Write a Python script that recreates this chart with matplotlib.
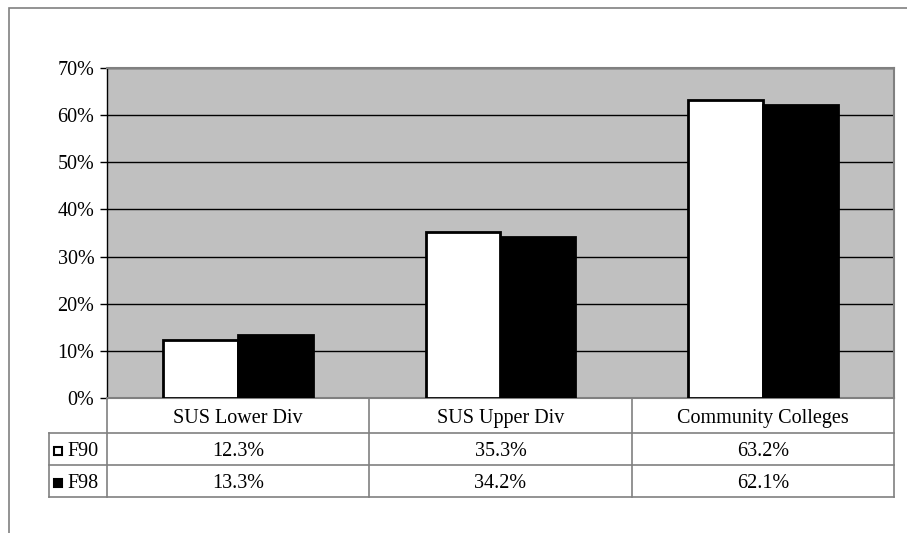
import matplotlib.pyplot as plt
from matplotlib.patches import Rectangle
from matplotlib.lines import Line2D

# Daten
categories = ["SUS Lower Div", "SUS Upper Div", "Community Colleges"]
series_names = ["F90", "F98"]
f90 = [12.3, 35.3, 63.2]
f98 = [13.3, 34.2, 62.1]
yticks = [0, 10, 20, 30, 40, 50, 60, 70]

W, H = 907, 533
plt.rcParams['font.family'] = ['Liberation Serif', 'DejaVu Serif']
fs = 14.5

fig = plt.figure(figsize=(W / 100, H / 100), dpi=100)


def fx(px):
    return px / W


def fy(py):
    return 1 - py / H


# aeusserer Rahmen
fig.patches.append(Rectangle((fx(8.5), fy(560)), fx(920), fy(8.5) - fy(560),
                             transform=fig.transFigure, fill=False,
                             edgecolor='#808080', lw=1.2))

left, right, top, bottom = 107, 894, 68, 398
ax = fig.add_axes([fx(left), fy(bottom), fx(right - left), fy(top) - fy(bottom)])
ax.set_facecolor('#c0c0c0')

n = len(categories)
bw = 1 / 3.5
xs = range(n)
ax.bar([x - bw / 2 for x in xs], f90, width=bw, color='white',
       edgecolor='black', lw=2, zorder=3)
ax.bar([x + bw / 2 for x in xs], f98, width=bw, color='black',
       edgecolor='black', lw=2, zorder=3)

ax.set_xlim(-0.5, n - 0.5)
ax.set_ylim(0, 70)
ax.set_yticks(yticks)
ax.set_yticklabels([f"{t}%" for t in yticks], fontsize=fs)
ax.yaxis.grid(True, color='black', lw=1)
ax.set_axisbelow(True)
ax.set_xticks([])
ax.tick_params(axis='y', length=5, width=1, pad=4)
for s in ax.spines.values():
    s.set_color('#808080')
    s.set_linewidth(1.5)
ax.spines['left'].set_color('black')
ax.spines['left'].set_linewidth(1)

# Datentabelle
row_y = [398, 433, 465, 497]
leg_left = 49
cat_w = (right - left) / n
lc = '#808080'


def hline(x0, x1, y):
    fig.add_artist(Line2D([fx(x0), fx(x1)], [fy(y), fy(y)], color=lc, lw=1.2,
                          transform=fig.transFigure))


def vline(x, y0, y1):
    fig.add_artist(Line2D([fx(x), fx(x)], [fy(y0), fy(y1)], color=lc, lw=1.2,
                          transform=fig.transFigure))


hline(leg_left, right, row_y[1])
hline(leg_left, right, row_y[2])
hline(leg_left, right, row_y[3])
vline(leg_left, row_y[1], row_y[3])
vline(left, row_y[0], row_y[3])
for i in range(1, n + 1):
    vline(left + cat_w * i, row_y[0], row_y[3])

for i, c in enumerate(categories):
    cx = left + cat_w * (i + 0.5)
    fig.text(fx(cx), fy((row_y[0] + row_y[1]) / 2 + 3), c, ha='center',
             va='center', fontsize=fs)
    fig.text(fx(cx), fy((row_y[1] + row_y[2]) / 2 + 3), f"{f90[i]:.1f}%",
             ha='center', va='center', fontsize=fs)
    fig.text(fx(cx), fy((row_y[2] + row_y[3]) / 2 + 3), f"{f98[i]:.1f}%",
             ha='center', va='center', fontsize=fs)

# Legendensymbole
for r, (name, col) in enumerate(zip(series_names, ['white', 'black'])):
    yc = (row_y[r + 1] + row_y[r + 2]) / 2 + 2
    fig.patches.append(Rectangle((fx(54), fy(yc + 4)), fx(8), fy(yc - 4) - fy(yc + 4),
                                 transform=fig.transFigure, facecolor=col,
                                 edgecolor='black', lw=1.5))
    fig.text(fx(67), fy(yc + 1), name, ha='left', va='center', fontsize=fs)

fig.savefig("out.png", dpi=100)
